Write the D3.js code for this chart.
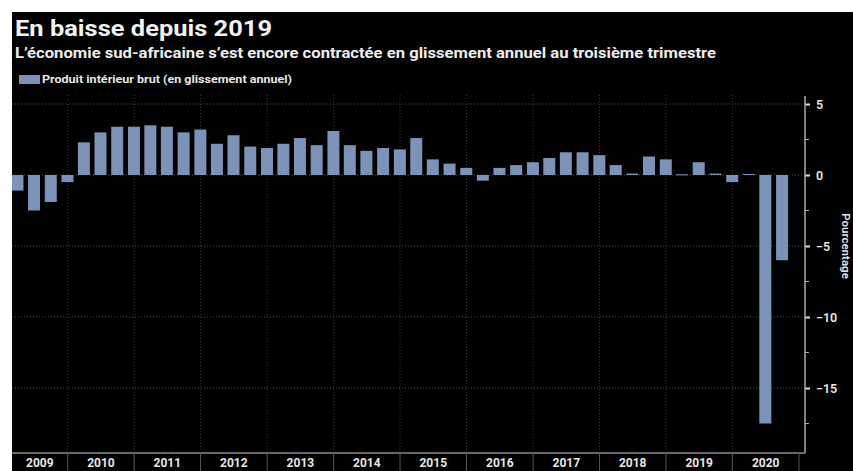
<!DOCTYPE html>
<html>
<head>
<meta charset="utf-8">
<script src="https://cdn.jsdelivr.net/npm/d3@7"></script>
<style>
    body { margin: 0; background: #fff; }
    svg { display: block; font-family: Roboto, "Noto Sans", sans-serif; }
</style>
</head>
<body>
<div id="chart"></div>
<script>
// quarter end dates and GDP growth (y/y, %)
var quarters = [
    "2009-03-31", "2009-06-30", "2009-09-30", "2009-12-31",
    "2010-03-31", "2010-06-30", "2010-09-30", "2010-12-31",
    "2011-03-31", "2011-06-30", "2011-09-30", "2011-12-31",
    "2012-03-31", "2012-06-30", "2012-09-30", "2012-12-31",
    "2013-03-31", "2013-06-30", "2013-09-30", "2013-12-31",
    "2014-03-31", "2014-06-30", "2014-09-30", "2014-12-31",
    "2015-03-31", "2015-06-30", "2015-09-30", "2015-12-31",
    "2016-03-31", "2016-06-30", "2016-09-30", "2016-12-31",
    "2017-03-31", "2017-06-30", "2017-09-30", "2017-12-31",
    "2018-03-31", "2018-06-30", "2018-09-30", "2018-12-31",
    "2019-03-31", "2019-06-30", "2019-09-30", "2019-12-31",
    "2020-03-31", "2020-06-30", "2020-09-30"
];
var gdp = [
    -1.1, -2.5, -1.9, -0.5,
    2.3, 3.0, 3.4, 3.4,
    3.5, 3.4, 3.0, 3.2,
    2.2, 2.8, 2.0, 1.9,
    2.2, 2.6, 2.1, 3.1,
    2.1, 1.7, 1.9, 1.8,
    2.6, 1.1, 0.8, 0.5,
    -0.4, 0.5, 0.7, 0.9,
    1.2, 1.6, 1.6, 1.4,
    0.7, 0.1, 1.3, 1.1,
    0.05, 0.9, 0.1, -0.5,
    0.07, -17.5, -6.0
];
var years = ["2009", "2010", "2011", "2012", "2013", "2014", "2015", "2016", "2017", "2018", "2019", "2020"];
var yTicks = [5, 0, -5, -10, -15];
var yMinorTicks = [2.5, -2.5, -7.5, -12.5, -17.5];

var title = "En baisse depuis 2019";
var subtitle = "L\u2019économie sud-africaine s\u2019est encore contractée en glissement annuel au troisième trimestre";
var legendLabel = "Produit intérieur brut (en glissement annuel)";

var w = 853;
var h = 471;
var plotLeft = 12, plotRight = 805, plotTop = 95, plotBottom = 453;

var parse = d3.timeParse("%Y-%m-%d");
var data = quarters.map(function (q, i) {
    return { date: parse(q), value: gdp[i] };
});

var svg = d3.select("#chart")
    .append("svg")
    .attr("width", w)
    .attr("height", h);

// black panel (white margin at top and left)
svg.append("rect")
    .attr("x", 12).attr("y", 12)
    .attr("width", w - 12).attr("height", h - 12)
    .attr("fill", "#000");

var x = d3.scaleTime()
    .domain([new Date(2010, 0, 1), new Date(2021, 0, 1)])
    .range([67.7, 799]);

var y = d3.scaleLinear()
    .domain([-15, 5])
    .range([388, 104]);

var barW = 12;

svg.append("defs").append("clipPath")
    .attr("id", "plot")
    .append("rect")
    .attr("x", plotLeft).attr("y", plotTop)
    .attr("width", plotRight - plotLeft).attr("height", plotBottom - plotTop);

// gridlines
var boundaries = years.slice(1).map(function (yr) { return new Date(+yr, 0, 1); });
boundaries.push(new Date(2021, 0, 1));

svg.append("g")
    .selectAll("line")
    .data(yTicks)
    .enter()
    .append("line")
    .attr("x1", plotLeft).attr("x2", plotRight)
    .attr("y1", d => y(d)).attr("y2", d => y(d))
    .attr("stroke", "#4a4a4a")
    .attr("stroke-dasharray", "1,2");

svg.append("g")
    .selectAll("line")
    .data(boundaries.slice(0, -1))
    .enter()
    .append("line")
    .attr("x1", d => x(d)).attr("x2", d => x(d))
    .attr("y1", plotTop).attr("y2", plotBottom)
    .attr("stroke", "#3a3a3a")
    .attr("stroke-dasharray", "1,2");

// bars
svg.append("g")
    .attr("clip-path", "url(#plot)")
    .selectAll("rect")
    .data(data)
    .enter()
    .append("rect")
    .attr("x", d => x(d.date) - barW / 2)
    .attr("y", d => y(Math.max(0, d.value)))
    .attr("width", barW)
    .attr("height", d => Math.max(1, Math.abs(y(d.value) - y(0))))
    .attr("fill", "#7b93b8");

// x axis line and year separators
svg.append("line")
    .attr("x1", plotLeft).attr("x2", plotRight)
    .attr("y1", plotBottom).attr("y2", plotBottom)
    .attr("stroke", "#8a8a8a")
    .attr("stroke-width", 1.5);

svg.append("g")
    .selectAll("line")
    .data(boundaries)
    .enter()
    .append("line")
    .attr("x1", d => x(d)).attr("x2", d => x(d))
    .attr("y1", plotBottom).attr("y2", h)
    .attr("stroke", "#555");

svg.append("g")
    .selectAll("text")
    .data(years)
    .enter()
    .append("text")
    .attr("x", function (d) {
        var a = Math.max(plotLeft, x(new Date(+d, 0, 1)));
        var b = x(new Date(+d + 1, 0, 1));
        return (a + b) / 2;
    })
    .attr("y", 467)
    .attr("text-anchor", "middle")
    .attr("fill", "#e6e6e6")
    .attr("font-size", "12px")
    .attr("font-weight", "bold")
    .text(d => d);

// right y axis
var yAxis = svg.append("g")
    .attr("transform", "translate(" + plotRight + ",0)")
    .call(d3.axisRight(y).tickValues(yTicks).tickSize(5).tickPadding(6).tickFormat(d3.format("d")));
yAxis.select(".domain").remove();
yAxis.selectAll(".tick line").attr("stroke", "#ddd").attr("stroke-width", 2);
yAxis.selectAll(".tick text")
    .attr("fill", "#e6e6e6")
    .attr("font-size", "12.5px")
    .attr("font-weight", 600)
    .attr("font-family", "Roboto, sans-serif");

yAxis.append("g")
    .selectAll("line")
    .data(yMinorTicks)
    .enter()
    .append("line")
    .attr("x1", 0).attr("x2", 4)
    .attr("y1", d => y(d)).attr("y2", d => y(d))
    .attr("stroke", "#aaa");

svg.append("line")
    .attr("x1", plotRight).attr("x2", plotRight)
    .attr("y1", plotTop + 1).attr("y2", plotBottom)
    .attr("stroke", "#aaa")
    .attr("stroke-width", 1.5);

svg.append("text")
    .attr("transform", "translate(842," + y(-5) + ") rotate(90)")
    .attr("text-anchor", "middle")
    .attr("fill", "#e6e6e6")
    .attr("font-size", "11.5px")
    .attr("font-weight", 600)
    .text("Pourcentage");

// titles and legend
svg.append("text")
    .attr("x", 15).attr("y", 36)
    .attr("fill", "#f2f2f2")
    .attr("font-size", "22.5px")
    .attr("font-weight", "bold")
    .attr("textLength", 257)
    .attr("lengthAdjust", "spacingAndGlyphs")
    .text(title);

svg.append("text")
    .attr("x", 15).attr("y", 58)
    .attr("fill", "#ededed")
    .attr("font-size", "14px")
    .attr("font-weight", "bold")
    .attr("textLength", 701)
    .attr("lengthAdjust", "spacingAndGlyphs")
    .text(subtitle);

svg.append("rect")
    .attr("x", 19).attr("y", 75)
    .attr("width", 21).attr("height", 9)
    .attr("fill", "#7b93b8");

svg.append("text")
    .attr("x", 42).attr("y", 83)
    .attr("fill", "#e6e6e6")
    .attr("font-size", "11px")
    .attr("font-weight", "bold")
    .attr("textLength", 250)
    .attr("lengthAdjust", "spacingAndGlyphs")
    .text(legendLabel);
</script>
</body>
</html>
